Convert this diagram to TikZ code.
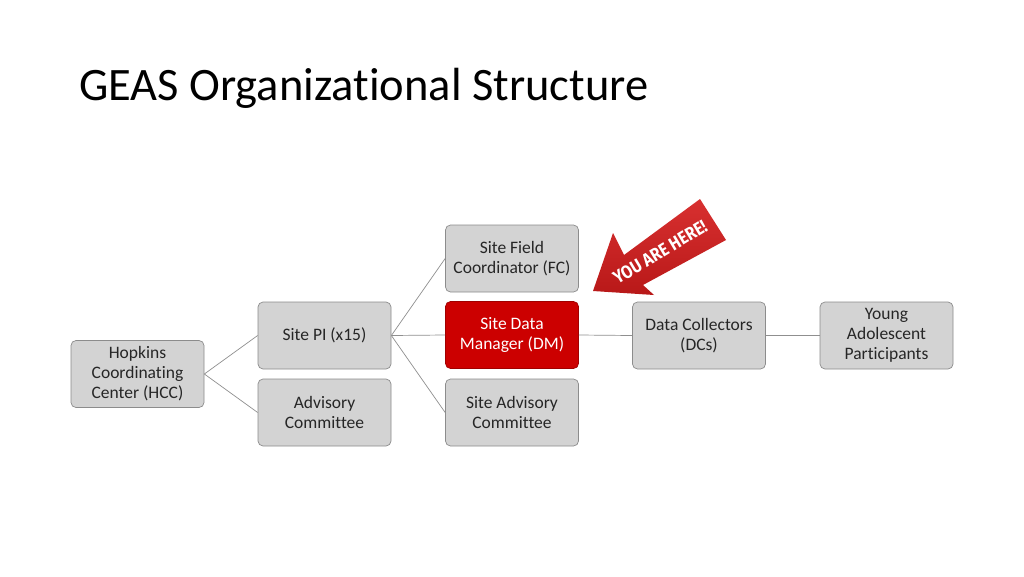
\documentclass[tikz,border=0pt]{standalone}
\usepackage{fontspec}
\setmainfont{Carlito}[Ligatures=CommonOff]
\newfontfamily\arrowfont{Fira Sans}
\definecolor{boxfill}{HTML}{D3D3D3}
\definecolor{boxline}{HTML}{8C8C8C}
\definecolor{linkcol}{HTML}{8F8F8F}
\definecolor{dmfill}{HTML}{CC0000}
\definecolor{dmline}{HTML}{A00000}
\definecolor{arrowred}{HTML}{D83030}
\definecolor{arrowdark}{HTML}{B81818}
\definecolor{txt}{HTML}{262626}
\begin{document}
\begin{tikzpicture}[x=1pt,y=-1pt,
  orgbox/.style={draw=boxline, fill=boxfill, line width=0.7pt, rounded corners=5pt,
    minimum width=133pt, minimum height=67pt, inner sep=0pt, align=center,
    text=txt, font=\fontsize{17.5}{20}\selectfont},
  dmbox/.style={orgbox, fill=dmfill, draw=dmline, text=white},
  link/.style={draw=linkcol, line width=0.7pt}]
\useasboundingbox (0,0) rectangle (1024,576);
\fill[white] (0,0) rectangle (1024,576);
\node[anchor=base west, inner sep=0pt, font=\fontsize{46.5}{50}\selectfont, text=black] (title) at (79,100) {GEAS Organizational Structure};

\node[orgbox] (hcc) at (137.5,374) {Hopkins\\Coordinating\\Center (HCC)};
\node[orgbox] (pi) at (324.5,335.5) {Site PI (x15)};
\node[orgbox] (ac) at (324.5,412.5) {Advisory\\Committee};
\node[orgbox] (fc) at (512,258.5) {Site Field\\Coordinator (FC)};
\node[dmbox] (dm) at (512,335) {Site Data\\Manager (DM)};
\node[orgbox] (sa) at (512,412.5) {Site Advisory\\Committee};
\node[orgbox] (dc) at (699,335.5) {Data Collectors\\(DCs)};
\node[orgbox] (ya) at (886.5,335.5) {Young\\Adolescent\\Participants};

\draw[link] (hcc.east) -- (pi.west);
\draw[link] (hcc.east) -- (ac.west);
\draw[link] (pi.east) -- (fc.west);
\draw[link] (pi.east) -- (dm.west);
\draw[link] (pi.east) -- (sa.west);
\draw[link] (dm.east) -- (dc.west);
\draw[link] (dc.east) -- (ya.west);

% YOU ARE HERE arrow
\shade[top color=arrowred, bottom color=arrowdark]
  (593,291) -- (613,233) -- (624,255) -- (700,199) -- (726,240) -- (643,285) -- (654,295) -- cycle;
\node[rotate=31, inner sep=0pt, text=white] (here) at (660,252)
  {\resizebox{106pt}{13pt}{\arrowfont\bfseries YOU ARE HERE!}};
\end{tikzpicture}
\end{document}
